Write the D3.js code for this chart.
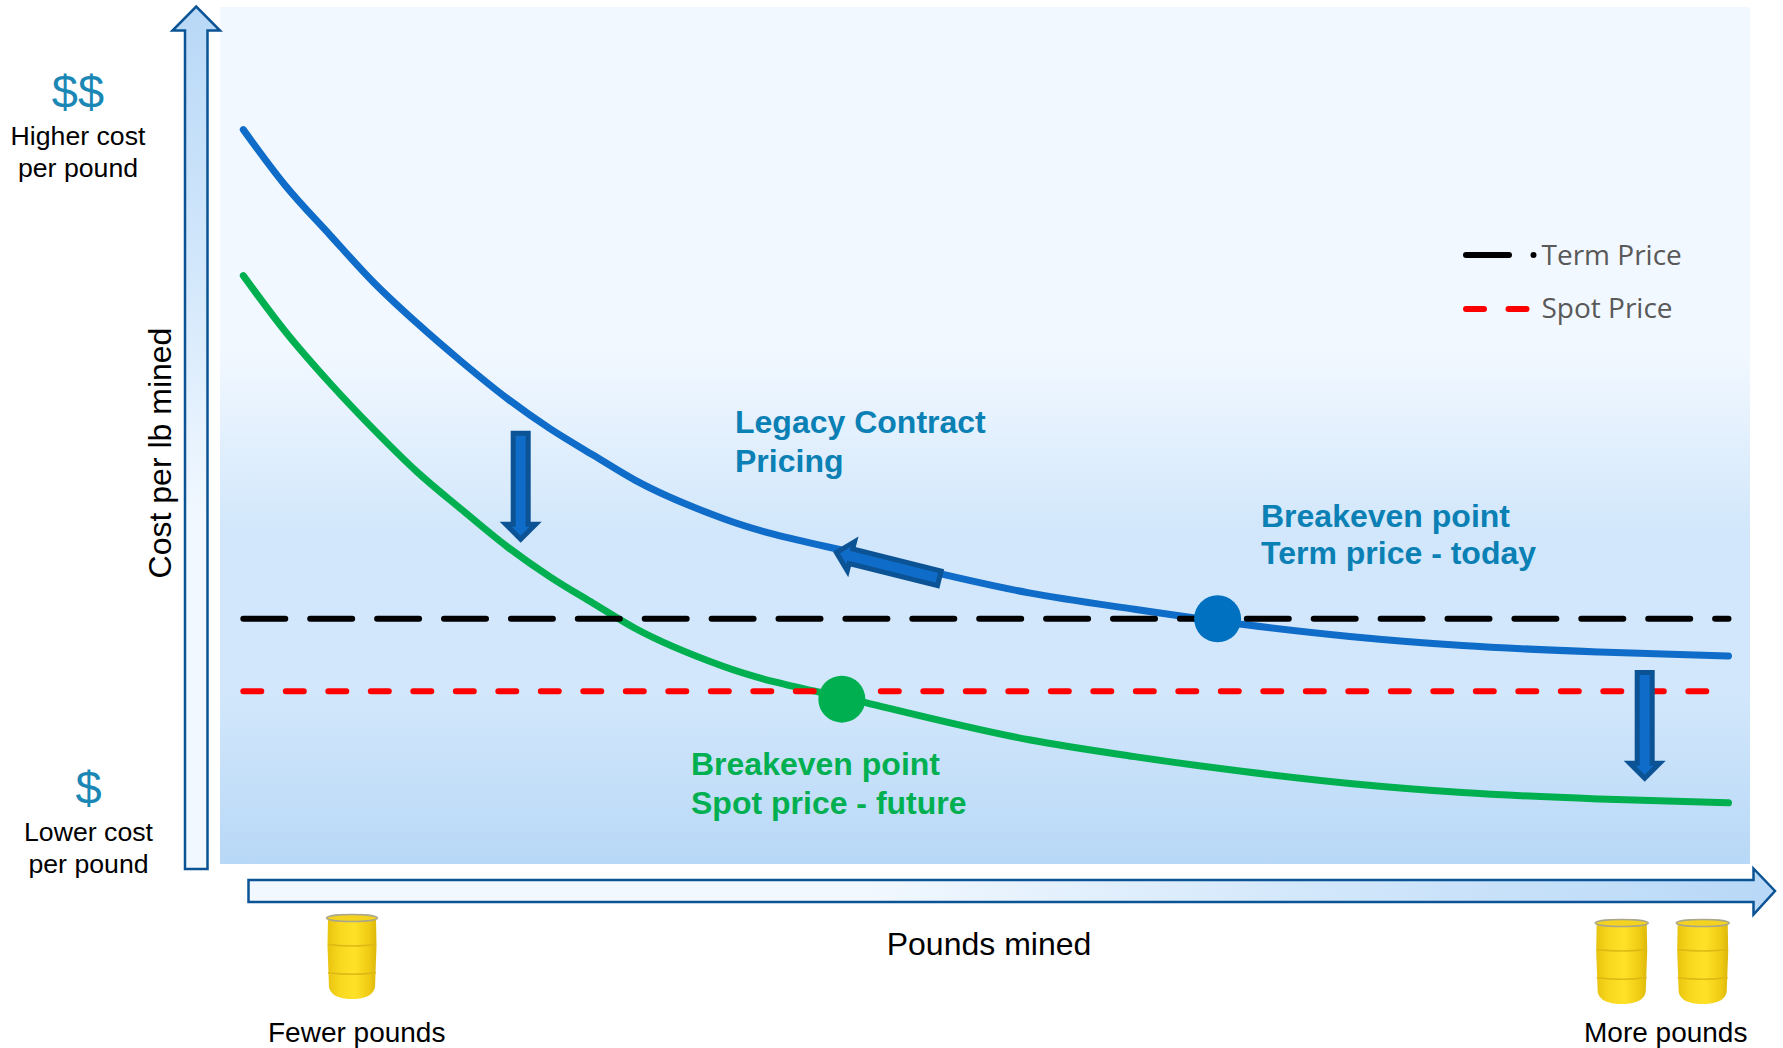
<!DOCTYPE html>
<html><head><meta charset="utf-8">
<script src="https://cdn.jsdelivr.net/npm/d3@7"></script>
<style>html,body{margin:0;padding:0;background:#fff}svg{display:block}text{font-family:"Liberation Sans",Arial,sans-serif}</style>
</head><body><div id="chart"></div>
<script>
const poundsMined=[0,2.8,5.84,8.73,11.7,14.73,17.76,20.65,23.55,26.37,32.3,41.9,52.9,60,67.5,74.5,82.1,91.3,100];
const legacyCost=[85,78.6,72.8,67.4,62.6,58.1,53.9,50.4,47.35,44.45,40,35.7,31.4,29.5,27.7,26.35,25.3,24.55,24.1];
const futureCost=[68.1,61.7,55.65,50.4,45.4,41,36.75,33.25,30.2,27.3,22.9,18.7,14.4,12.45,10.7,9.35,8.3,7.55,7.1];
const termPrice=28.4, spotPrice=20;
const termExtent=[0,100], spotExtent=[0,98.6];
const breakevens=[{p:65.6,c:28.4,color:"#0070C0"},{p:40.3,c:19.1,color:"#00B050"}];
const legendLabels=["Term Price","Spot Price"];

const W=1783,H=1048;
const x=d3.scaleLinear().domain([0,100]).range([243.3,1728.5]);
const y=d3.scaleLinear().domain([0,100]).range([864.2,0]);
const svg=d3.select("#chart").append("svg").attr("width",W).attr("height",H);
const defs=svg.append("defs");
function grad(id,dir,stops){
  const g=defs.append("linearGradient").attr("id",id).attr("x1",0).attr("y1",0)
    .attr("x2",dir==="h"?1:0).attr("y2",dir==="h"?0:1);
  stops.forEach(s=>g.append("stop").attr("offset",s[0]).attr("stop-color",s[1]));
}
grad("bg","v",[[0,"#F2F8FF"],[0.40,"#F2F8FF"],[0.61,"#D2E7FB"],[0.80,"#D2E7FB"],[1,"#B8D8F7"]]);
grad("upArrow","v",[[0,"#B8D8F7"],[0.3,"#D2E7FB"],[0.6,"#F2F8FF"],[1,"#F2F8FF"]]);
grad("rightArrow","h",[[0,"#F2F8FF"],[0.4,"#F2F8FF"],[0.7,"#D2E7FB"],[1,"#B8D8F7"]]);
grad("barrel","h",[[0,"#E8C30E"],[0.25,"#F8D81E"],[0.55,"#FFE228"],[0.85,"#EFCB14"],[1,"#DDB80A"]]);

svg.append("rect").attr("x",220).attr("y",7).attr("width",1530).attr("height",857).attr("fill","url(#bg)");

const axisStroke="#0B5394";
svg.append("path").attr("fill","url(#upArrow)").attr("stroke",axisStroke).attr("stroke-width",2.5)
  .attr("d","M185,869 L207.5,869 L207.5,30.5 L220,30.5 L196.2,6.5 L172.5,30.5 L185,30.5 Z");
svg.append("path").attr("fill","url(#rightArrow)").attr("stroke",axisStroke).attr("stroke-width",2.5)
  .attr("d","M248.5,880 L248.5,902 L1753.5,902 L1753.5,914.5 L1775,891 L1753.5,868.5 L1753.5,880 Z");

const line=d3.line().curve(d3.curveMonotoneX).x(d=>x(d[0])).y(d=>y(d[1]));
[[legacyCost,"#0F6CC8"],[futureCost,"#00B050"]].forEach(([vals,c])=>{
  svg.append("path").datum(poundsMined.map((p,i)=>[p,vals[i]])).attr("d",line)
    .attr("fill","none").attr("stroke",c).attr("stroke-width",7)
    .attr("stroke-linecap","round").attr("stroke-linejoin","round");
});
svg.append("line").attr("x1",x(termExtent[0])).attr("x2",x(termExtent[1])).attr("y1",y(termPrice)).attr("y2",y(termPrice))
  .attr("stroke","#000").attr("stroke-width",6).attr("stroke-linecap","round").attr("stroke-dasharray","42 24.9");
svg.append("line").attr("x1",x(spotExtent[0])).attr("x2",x(spotExtent[1])).attr("y1",y(spotPrice)).attr("y2",y(spotPrice))
  .attr("stroke","#FF0000").attr("stroke-width",6).attr("stroke-linecap","round").attr("stroke-dasharray","18 24.5");

svg.selectAll("circle.be").data(breakevens).enter().append("circle").attr("class","be")
  .attr("cx",d=>x(d.p)).attr("cy",d=>y(d.c)).attr("r",23.5).attr("fill",d=>d.color);

function blockArrow(x0,y0,x1,y1,shaftW,headW,headL){
  const a=Math.atan2(y1-y0,x1-x0)*180/Math.PI, L=Math.hypot(x1-x0,y1-y0);
  const s=shaftW/2,h=headW/2,b=L-headL;
  svg.append("path").attr("transform",`translate(${x0},${y0}) rotate(${a})`)
    .attr("d",`M0,${-s} L${b},${-s} L${b},${-h} L${L},0 L${b},${h} L${b},${s} L0,${s} Z`)
    .attr("fill","#0F6CC8").attr("stroke","#0B5394").attr("stroke-width",5);
}
blockArrow(520.7,433.2,520.7,539.2,15,30,15);
blockArrow(1644.7,672.5,1644.7,778.2,15,30,15);
blockArrow(939.3,578.4,836.4,552.6,15,30,15);

function barrel(cx,top,bot,w){
  const g=svg.append("g"), r=w/2, b=r-2;
  g.append("path").attr("fill","url(#barrel)")
    .attr("d",`M${cx-b},${top+4} L${cx+b},${top+4} L${cx+b+.5},${top+32} L${cx+b-1},${bot-12} C${cx+b-3},${bot-2} ${cx+b*.4},${bot} ${cx},${bot} C${cx-b*.4},${bot} ${cx-b+3},${bot-2} ${cx-b+1},${bot-12} L${cx-b-.5},${top+32} Z`);
  g.append("ellipse").attr("cx",cx).attr("cy",top+4).attr("rx",r-.5).attr("ry",3.5)
    .attr("fill","#F4D320").attr("stroke","#A9A68C").attr("stroke-width",1.5);
  [.36,.69].forEach(f=>{
    const yy=top+(bot-top)*f;
    g.append("path").attr("d",`M${cx-b},${yy} Q${cx},${yy+3} ${cx+b},${yy}`)
      .attr("fill","none").attr("stroke","#DDB914").attr("stroke-width",1.5);
  });
}
barrel(352,914,999,52); barrel(1621.7,919,1004,54); barrel(1702.7,919,1004,54);

function txt(t,xp,yp,size,fill,opts={}){
  const e=svg.append("text").attr("x",xp).attr("y",yp).attr("font-size",size).attr("fill",fill).text(t);
  if(opts.anchor)e.attr("text-anchor",opts.anchor);
  if(opts.bold)e.attr("font-weight","bold");
  if(opts.family)e.style("font-family",opts.family);
  if(opts.transform)e.attr("transform",opts.transform);
  return e;
}
const dollar="#1A87B5", k="#000", legacy="#0A80B4", green="#00B050";
txt("$$",78,108,47,dollar,{anchor:"middle"});
txt("Higher cost",78,145,26.67,k,{anchor:"middle"});
txt("per pound",78,177,26.67,k,{anchor:"middle"});
txt("$",88.5,804,47,dollar,{anchor:"middle"});
txt("Lower cost",88.5,841,26.67,k,{anchor:"middle"});
txt("per pound",88.5,873,26.67,k,{anchor:"middle"});
txt("Cost per lb mined",0,0,32,k,{anchor:"middle",transform:"translate(170.5,453) rotate(-90)"});
txt("Pounds mined",989,955,32,k,{anchor:"middle"});
txt("Fewer pounds",268,1041.5,28,k);
txt("More pounds",1584,1041.5,28,k);
txt("Legacy Contract",735,433,32,legacy,{bold:true});
txt("Pricing",735,472,32,legacy,{bold:true});
txt("Breakeven point",1261,526.5,32,legacy,{bold:true});
txt("Term price - today",1261,564,32,legacy,{bold:true});
txt("Breakeven point",691,775,32,green,{bold:true});
txt("Spot price - future",691,813.5,32,green,{bold:true});

svg.append("line").attr("x1",1466).attr("x2",1509).attr("y1",255).attr("y2",255)
  .attr("stroke","#000").attr("stroke-width",6).attr("stroke-linecap","round");
svg.append("circle").attr("cx",1533.5).attr("cy",255).attr("r",3).attr("fill","#000");
svg.append("line").attr("x1",1466).attr("x2",1530).attr("y1",309).attr("y2",309)
  .attr("stroke","#FF0000").attr("stroke-width",6).attr("stroke-linecap","round").attr("stroke-dasharray","18 24.5");
legendLabels.forEach((l,i)=>txt(l,1541.5,i?318:265,28,"#595959",{family:'"Open Sans",sans-serif'}));
</script></body></html>
